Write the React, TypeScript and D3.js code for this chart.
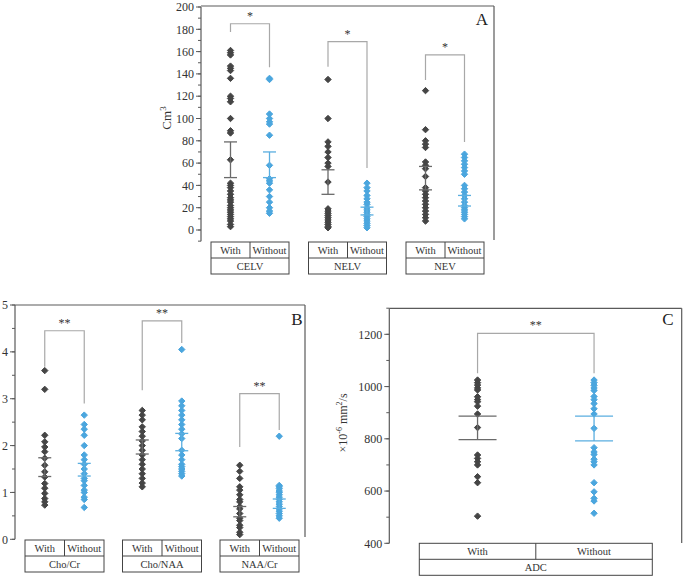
import React from "react";
import * as d3 from "d3";

// ---------- data ----------
const groupLabels = ["With", "Without"];

const aCategories = ["CELV", "NELV", "NEV"];
const celvWith = [161, 159, 157, 147, 145, 143, 136, 120, 118, 115, 100, 89, 87, 63, 42, 40, 38, 35, 32, 29, 27, 25, 22, 20, 18, 16, 14, 12, 10, 8, 5, 3];
const celvWithout = [136, 135, 104, 100, 97, 95, 85, 58, 46, 44, 42, 36, 30, 25, 20, 17, 15];
const nelvWith = [135, 100, 79, 75, 70, 65, 60, 57, 43, 19, 17, 15, 13, 11, 9, 7, 5, 3, 2];
const nelvWithout = [42, 38, 35, 31, 28, 25, 23, 20, 18, 16, 14, 12, 10, 8, 6, 4, 2];
const nevWith = [125, 90, 80, 77, 74, 61, 58, 55, 48, 38, 35, 32, 29, 26, 23, 20, 17, 14, 11, 8];
const nevWithout = [68, 65, 62, 59, 56, 53, 50, 40, 37, 34, 31, 28, 25, 22, 20, 18, 16, 14, 12, 10];
const aErrWith = [[47, 79], [32, 54], [36, 57]];
const aErrWithout = [[47, 70], [13.5, 20.5], [21.5, 31]];
// bracket: [top, left leg end, right leg end]
const aBrackets = [[185, 177.5, 146], [169, 146.5, 55.6], [157, 134.5, 79]];
const aSig = ["*", "*", "*"];
const aTicks = [0, 20, 40, 60, 80, 100, 120, 140, 160, 180, 200];

const bCategories = ["Cho/Cr", "Cho/NAA", "NAA/Cr"];
const choCrWith = [3.6, 3.2, 2.22, 2.08, 1.97, 1.87, 1.73, 1.58, 1.44, 1.33, 1.19, 1.09, 0.98, 0.87, 0.8, 0.73];
const choCrWithout = [2.65, 2.45, 2.35, 2.22, 2.0, 1.8, 1.7, 1.6, 1.5, 1.4, 1.3, 1.25, 1.15, 1.05, 1.0, 0.9, 0.85, 0.68];
const choNaaWith = [2.75, 2.65, 2.55, 2.4, 2.3, 2.2, 2.1, 2.0, 1.9, 1.8, 1.7, 1.6, 1.5, 1.4, 1.3, 1.2, 1.12];
const choNaaWithout = [4.05, 2.95, 2.85, 2.75, 2.65, 2.55, 2.45, 2.35, 2.25, 2.15, 1.9, 1.8, 1.7, 1.6, 1.55, 1.5, 1.45, 1.4, 1.35];
const naaCrWith = [1.58, 1.45, 1.3, 1.12, 1.05, 0.95, 0.85, 0.8, 0.7, 0.65, 0.55, 0.45, 0.4, 0.3, 0.25, 0.15, 0.1];
const naaCrWithout = [2.2, 1.15, 1.12, 1.08, 1.03, 1.0, 0.95, 0.9, 0.85, 0.8, 0.75, 0.7, 0.65, 0.6, 0.55, 0.5, 0.45];
const bErrWith = [[1.34, 1.74], [1.82, 2.12], [0.48, 0.7]];
const bErrWithout = [[1.35, 1.62], [1.89, 2.26], [0.66, 0.86]];
const bBrackets = [[4.45, 3.68, 2.9], [4.66, 3.18, 4.19], [3.11, 1.97, 2.33]];
const bSig = ["**", "**", "**"];
const bTicks = [0, 1, 2, 3, 4, 5];

const cCategories = ["ADC"];
const adcWith = [1025, 1015, 1006, 995, 987, 961, 950, 942, 925, 895, 843, 738, 725, 712, 700, 655, 632, 504];
const adcWithout = [1025, 1015, 1005, 995, 985, 962, 950, 935, 915, 895, 840, 766, 750, 740, 722, 712, 700, 632, 597, 572, 562, 515];
const cErrWith = [[797, 887]];
const cErrWithout = [[792, 887]];
const cBrackets = [[1204, 1051, 1051]];
const cSig = ["**"];
const cTicks = [400, 600, 800, 1000, 1200];

// ---------- styles ----------
const DARK = "#454545";
const DARK_BAR = "#6a6a6a";
const BLUE = "#4ba6de";
const BLUE_BAR = "#5aaee0";
const FRAME = "#5a5a5a";
const BRACKET = "#a8a8a8";
const FONT = "'Liberation Serif', 'Times New Roman', serif";

function diamond(cx: number, cy: number, r: number) {
  return `M${cx},${cy - r}L${cx + r},${cy}L${cx},${cy + r}L${cx - r},${cy}Z`;
}

type PanelProps = {
  axisX: number;
  top: number;
  right: number;
  rightBottom: number;
  domain: [number, number];
  range: [number, number];
  ticks: number[];
  minorStep: number;
  fmt: (v: number) => string;
  categories: string[];
  series: [number[], number[]][];
  errWith: number[][];
  errWithout: number[][];
  brackets: number[][];
  sig: string[];
  boxStart: number;
  boxStep: number;
  boxWidth: number;
  rowTop: number;
  rowH: number;
  capHalf: number;
  markerR: number;
  label: string;
  labelX: number;
  labelY: number;
};

function Panel(p: PanelProps) {
  const y = d3.scaleLinear().domain(p.domain).range(p.range);
  const minors = d3.range(p.domain[0], p.domain[1] + p.minorStep / 2, p.minorStep);
  const cats = d3.range(p.categories.length);
  return (
    <g>
      {/* frame */}
      <line x1={p.axisX} x2={p.axisX} y1={y(p.domain[0])} y2={y(p.domain[1])} stroke={FRAME} strokeWidth={1.2} />
      <line x1={p.axisX} x2={p.right} y1={p.top} y2={p.top} stroke={FRAME} strokeWidth={1.2} />
      <line x1={p.right} x2={p.right} y1={p.top} y2={p.rightBottom} stroke={FRAME} strokeWidth={1.2} />
      {minors.map((v, i) => (
        <line key={"mi" + i} x1={p.axisX - 3} x2={p.axisX} y1={y(v)} y2={y(v)} stroke={FRAME} strokeWidth={1} />
      ))}
      {p.ticks.map((v, i) => (
        <g key={"t" + i}>
          <line x1={p.axisX - 5} x2={p.axisX} y1={y(v)} y2={y(v)} stroke={FRAME} strokeWidth={1} />
          <text x={p.axisX - 7} y={y(v)} dy="0.35em" textAnchor="end" fontSize={12} fill="#333" fontFamily={FONT}>
            {p.fmt(v)}
          </text>
        </g>
      ))}
      <text x={p.labelX} y={p.labelY} fontSize={17} fill="#222" fontFamily={FONT} textAnchor="middle">
        {p.label}
      </text>
      {cats.map((ci) => {
        const bx = p.boxStart + ci * p.boxStep;
        const half = p.boxWidth / 2;
        const xW = bx + half / 2;
        const xWo = bx + half + half / 2;
        const [wData, woData] = p.series[ci];
        const br = p.brackets[ci];
        const ew = p.errWith[ci];
        const ewo = p.errWithout[ci];
        return (
          <g key={"c" + ci}>
            {/* bracket */}
            <path
              d={`M${xW},${y(br[1])}V${y(br[0])}H${xWo}V${y(br[2])}`}
              fill="none"
              stroke={BRACKET}
              strokeWidth={1.2}
            />
            <text x={(xW + xWo) / 2} y={y(br[0]) - 4} textAnchor="middle" fontSize={12} fill="#333" fontFamily={FONT}>
              {p.sig[ci]}
            </text>
            {/* points */}
            {wData.map((v, i) => (
              <path key={"w" + i} d={diamond(xW, y(v), p.markerR)} fill={DARK} stroke={DARK} strokeWidth={1} strokeLinejoin="round" />
            ))}
            {woData.map((v, i) => (
              <path key={"wo" + i} d={diamond(xWo, y(v), p.markerR)} fill={BLUE} stroke={BLUE} strokeWidth={1} strokeLinejoin="round" />
            ))}
            {/* error bars */}
            {[
              [xW, ew, DARK_BAR],
              [xWo, ewo, BLUE_BAR],
            ].map(([x, e, c]: any, k) => (
              <g key={"e" + k} stroke={c} strokeWidth={1.3}>
                <line x1={x} x2={x} y1={y(e[0])} y2={y(e[1])} />
                <line x1={x - p.capHalf} x2={x + p.capHalf} y1={y(e[0])} y2={y(e[0])} />
                <line x1={x - p.capHalf} x2={x + p.capHalf} y1={y(e[1])} y2={y(e[1])} />
              </g>
            ))}
            {/* category box */}
            <g stroke="#444" strokeWidth={1} fill="none">
              <rect x={bx} y={p.rowTop} width={p.boxWidth} height={p.rowH * 2} />
              <line x1={bx} x2={bx + p.boxWidth} y1={p.rowTop + p.rowH} y2={p.rowTop + p.rowH} />
              <line x1={bx + half} x2={bx + half} y1={p.rowTop} y2={p.rowTop + p.rowH} />
            </g>
            <text x={xW} y={p.rowTop + p.rowH / 2} dy="0.35em" textAnchor="middle" fontSize={10.5} fill="#333" fontFamily={FONT}>
              {groupLabels[0]}
            </text>
            <text x={xWo} y={p.rowTop + p.rowH / 2} dy="0.35em" textAnchor="middle" fontSize={10.5} fill="#333" fontFamily={FONT}>
              {groupLabels[1]}
            </text>
            <text x={bx + half} y={p.rowTop + p.rowH * 1.5} dy="0.35em" textAnchor="middle" fontSize={10.5} fill="#333" fontFamily={FONT}>
              {p.categories[ci]}
            </text>
          </g>
        );
      })}
    </g>
  );
}

export default function App() {
  return (
    <svg width={685} height={578} style={{ position: "absolute", left: 0, top: 0, background: "#fff" }}>
      <rect width={685} height={578} fill="#fff" />
      <Panel
        axisX={201}
        top={6}
        right={494}
        rightBottom={240}
        domain={[-10, 200]}
        range={[241.15, 7]}
        ticks={aTicks}
        minorStep={10}
        fmt={(v) => String(v)}
        categories={aCategories}
        series={[
          [celvWith, celvWithout],
          [nelvWith, nelvWithout],
          [nevWith, nevWithout],
        ]}
        errWith={aErrWith}
        errWithout={aErrWithout}
        brackets={aBrackets}
        sig={aSig}
        boxStart={211}
        boxStep={97.5}
        boxWidth={78}
        rowTop={242}
        rowH={16}
        capHalf={6.5}
        markerR={3.2}
        label="A"
        labelX={482}
        labelY={25}
      />
      <text
        transform="translate(171,118) rotate(-90)"
        textAnchor="middle"
        fontSize={13}
        fill="#333"
        fontFamily={FONT}
      >
        Cm<tspan dy="-5" fontSize={9}>3</tspan>
      </text>

      <Panel
        axisX={15}
        top={305}
        right={305}
        rightBottom={537}
        domain={[0, 5]}
        range={[539.3, 305]}
        ticks={bTicks}
        minorStep={0.5}
        fmt={(v) => String(v)}
        categories={bCategories}
        series={[
          [choCrWith, choCrWithout],
          [choNaaWith, choNaaWithout],
          [naaCrWith, naaCrWithout],
        ]}
        errWith={bErrWith}
        errWithout={bErrWithout}
        brackets={bBrackets}
        sig={bSig}
        boxStart={25}
        boxStep={97.5}
        boxWidth={79}
        rowTop={540}
        rowH={16}
        capHalf={6.5}
        markerR={3.2}
        label="B"
        labelX={297}
        labelY={325}
      />

      <Panel
        axisX={389.3}
        top={308.3}
        right={681.7}
        rightBottom={543}
        domain={[400, 1300]}
        range={[543.3, 308.2]}
        ticks={cTicks}
        minorStep={100}
        fmt={(v) => String(v)}
        categories={cCategories}
        series={[[adcWith, adcWithout]]}
        errWith={cErrWith}
        errWithout={cErrWithout}
        brackets={cBrackets}
        sig={cSig}
        boxStart={419.3}
        boxStep={0}
        boxWidth={233}
        rowTop={543.3}
        rowH={16}
        capHalf={19}
        markerR={3.2}
        label="C"
        labelX={668}
        labelY={325}
      />
      <text
        transform="translate(347,423) rotate(-90)"
        textAnchor="middle"
        fontSize={12}
        fill="#333"
        fontFamily={FONT}
      >
        ×10<tspan dy="-5" fontSize={8}>-6</tspan>
        <tspan dy="5"> mm</tspan>
        <tspan dy="-5" fontSize={8}>2</tspan>
        <tspan dy="5">/s</tspan>
      </text>
    </svg>
  );
}
